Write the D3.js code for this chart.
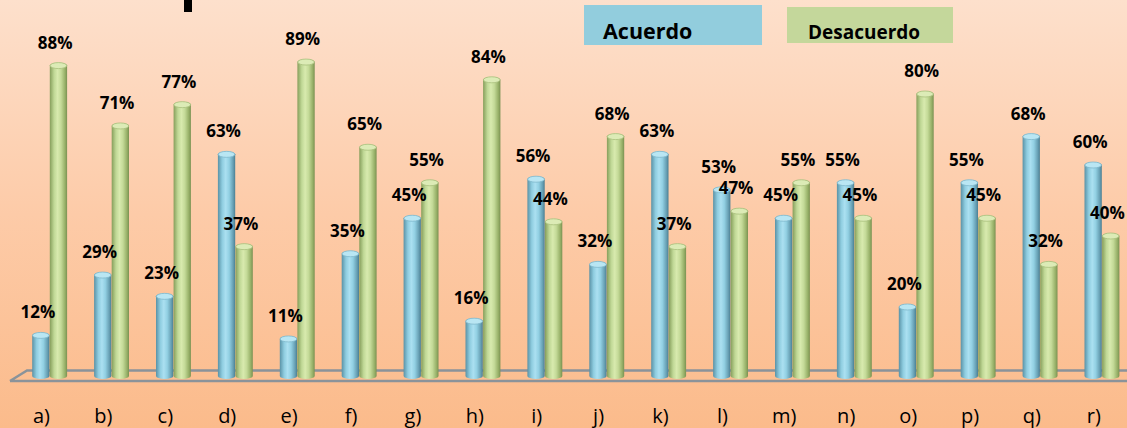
<!DOCTYPE html>
<html>
<head>
<meta charset="utf-8">
<script src="https://cdn.jsdelivr.net/npm/d3@7"></script>
<style>
  html, body { margin: 0; padding: 0; overflow: hidden; }
  svg { display: block; }
</style>
</head>
<body>
<svg id="chart" width="1127" height="428"></svg>
<script>
// categories and series
var categories = ['a)', 'b)', 'c)', 'd)', 'e)', 'f)', 'g)', 'h)', 'i)', 'j)', 'k)', 'l)', 'm)', 'n)', 'o)', 'p)', 'q)', 'r)'];
var acuerdo = [12, 29, 23, 63, 11, 35, 45, 16, 56, 32, 63, 53, 45, 55, 20, 55, 68, 60];
var desacuerdo = [88, 71, 77, 37, 89, 65, 55, 84, 44, 68, 37, 47, 55, 45, 80, 45, 32, 40];
var seriesNames = ['Acuerdo', 'Desacuerdo'];

var W = 1127, H = 428;
var svg = d3.select('#chart');
var defs = svg.append('defs');

// background
var bg = defs.append('linearGradient').attr('id', 'bg')
    .attr('x1', 0).attr('y1', 0).attr('x2', 0).attr('y2', 1);
bg.append('stop').attr('offset', 0).attr('stop-color', '#fde0cc');
bg.append('stop').attr('offset', 0.5).attr('stop-color', '#fdcba8');
bg.append('stop').attr('offset', 1).attr('stop-color', '#fbbb8b');
svg.append('rect').attr('width', W).attr('height', H).attr('fill', 'url(#bg)');

// cylinder gradients
var palettes = {
    blue: ['#5a92a6', '#8fcde0', '#abe0f1', '#92d0e3', '#679fb3', '#4a7f93'],
    green: ['#869e5b', '#c0d896', '#d8eaae', '#c4da98', '#97b068', '#7a9152']
}
Object.keys(palettes).forEach(function (k) {
    var g = defs.append('linearGradient').attr('id', 'cyl-' + k)
        .attr('x1', 0).attr('y1', 0).attr('x2', 1).attr('y2', 0);
    var offs = [0, 0.25, 0.45, 0.65, 0.88, 1];
    palettes[k].forEach(function (c, i) {
        g.append('stop').attr('offset', offs[i]).attr('stop-color', c);
    });
});

// scales
var x = d3.scalePoint().domain(categories).range([49.5, 1101.8]);
var y = d3.scaleLinear().domain([0, 100]).range([378, 23]);
var barW = 17.3;

// descender of the cut-off title at the top edge
svg.append('rect')
    .attr('x', 184).attr('y', 0)
    .attr('width', 8).attr('height', 12)
    .attr('fill', '#000');

// floor
svg.append('path')
    .attr('d', 'M10,381 L27,370.5 L1140,370.5 M10,381 L1140,381')
    .attr('fill', 'none')
    .attr('stroke', '#8a939a')
    .attr('stroke-width', 2.5);

// bars
var data = [];
categories.forEach(function (c, i) {
    data.push({ cat: c, s: 0, v: acuerdo[i] });
    data.push({ cat: c, s: 1, v: desacuerdo[i] });
});

function cylPath(x0, w, yTop, yBot) {
    var rx = w / 2, ry = 3;
    return 'M' + x0 + ',' + yTop +
        ' L' + x0 + ',' + yBot +
        ' A' + rx + ',' + ry + ' 0 0 0 ' + (x0 + w) + ',' + yBot +
        ' L' + (x0 + w) + ',' + yTop +
        ' A' + rx + ',' + ry + ' 0 0 0 ' + x0 + ',' + yTop + 'Z';
}

var bars = svg.append('g').selectAll('g.bar')
    .data(data)
    .enter()
    .append('g')
    .attr('class', 'bar');

bars.append('path')
    .attr('d', function (d) {
        var x0 = x(d.cat) + (d.s ? 0.3 : -barW);
        return cylPath(x0, barW, y(d.v), y(0) - 2);
    })
    .attr('fill', function (d) { return d.s ? 'url(#cyl-green)' : 'url(#cyl-blue)'; });

bars.append('ellipse')
    .attr('cx', function (d) { return x(d.cat) + (d.s ? 0.3 + barW / 2 : -barW / 2); })
    .attr('cy', function (d) { return y(d.v); })
    .attr('rx', barW / 2 - 0.3)
    .attr('ry', 3)
    .attr('fill', function (d) { return d.s ? '#dcebb6' : '#b9e6f3'; })
    .attr('stroke', function (d) { return d.s ? '#a8bf7c' : '#7fb8cb'; })
    .attr('stroke-width', 0.8);

// value labels
svg.append('g').selectAll('text')
    .data(data)
    .enter()
    .append('text')
    .attr('x', function (d) { return x(d.cat) + (d.s ? barW / 2 : -barW / 2) - 3; })
    .attr('y', function (d) { return y(d.v) - 17; })
    .attr('text-anchor', 'middle')
    .style('font-family', '"Open Sans", sans-serif')
    .style('font-weight', 700)
    .style('font-size', '17px')
    .attr('fill', '#000')
    .text(function (d) { return d.v + '%'; });

// category labels
svg.append('g').selectAll('text')
    .data(categories)
    .enter()
    .append('text')
    .attr('x', function (d) { return x(d) - 8; })
    .attr('y', 423)
    .attr('text-anchor', 'middle')
    .style('font-family', '"Open Sans", sans-serif')
    .style('font-size', '20px')
    .attr('fill', '#000')
    .text(function (d) { return d; });

// legend
var legend = [
    { name: seriesNames[0], fill: '#92cddd', x: 584, y: 5, w: 178, h: 40, tx: 603, ty: 39, fs: 21.5 },
    { name: seriesNames[1], fill: '#c4d79b', x: 787, y: 7, w: 166, h: 36, tx: 808, ty: 39, fs: 19 }
]
var lg = svg.append('g').selectAll('g').data(legend).enter().append('g');
lg.append('rect')
    .attr('x', function (d) { return d.x; })
    .attr('y', function (d) { return d.y; })
    .attr('width', function (d) { return d.w; })
    .attr('height', function (d) { return d.h; })
    .attr('fill', function (d) { return d.fill; });
lg.append('text')
    .attr('x', function (d) { return d.tx; })
    .attr('y', function (d) { return d.ty; })
    .style('font-family', '"Open Sans", sans-serif')
    .style('font-weight', 700)
    .style('font-size', function (d) { return d.fs + 'px'; })
    .attr('fill', '#000')
    .text(function (d) { return d.name; });
</script>
</body>
</html>
